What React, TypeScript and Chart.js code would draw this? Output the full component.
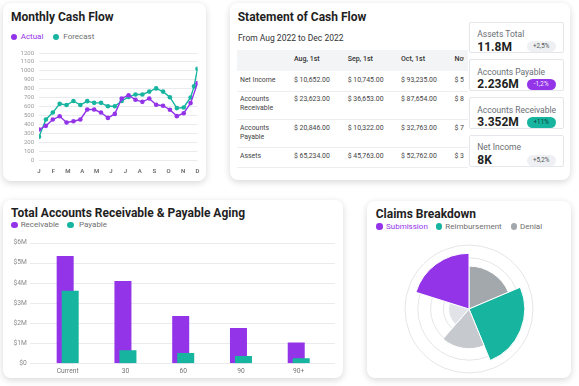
import React, { useEffect, useRef } from 'react';
import { Chart, registerables } from 'chart.js';

Chart.register(...registerables);

const FONT = 'Roboto, "Noto Sans", sans-serif';
const PURPLE = '#9334e9';
const TEAL = '#17b4a0';
const GRID = '#e9ebee';

// ---------- Monthly Cash Flow ----------
const MONTH_TICKS = ['J', 'F', 'M', 'A', 'M', 'J', 'J', 'A', 'S', 'O', 'N', 'D'];
const ACTUAL_POS = [0, 1, 2, 3, 4, 5, 6, 7, 8, 9, 10, 11, 12, 13, 14, 15, 16, 17, 18, 19, 20, 21, 22, 23];
const ACTUAL = [342, 383, 454, 491, 420, 435, 454, 566, 566, 532, 472, 517, 690, 727, 675, 652, 690, 619, 609, 564, 492, 525, 638, 862];
const FORECAST_POS = [0, 1, 2, 3, 4, 5, 6, 7, 8, 9, 10, 11, 12, 13, 14, 15, 16, 17, 18, 19, 20, 21, 22, 22.5, 23];
const FORECAST = [260, 455, 532, 630, 617, 662, 617, 660, 641, 641, 602, 602, 662, 707, 735, 735, 767, 803, 767, 704, 582, 589, 701, 826, 1022];

// ---------- Statement of Cash Flow ----------
const STATEMENT_COLUMNS = ['Aug, 1st', 'Sep, 1st', 'Oct, 1st', 'Nov, 1st'];
const STATEMENT_ROWS = [['Net Income'], ['Accounts', 'Receivable'], ['Accounts', 'Payable'], ['Assets']];
const NET_INCOME = ['$ 10,652.00', '$ 10,745.00', '$ 93,235.00', '$ 51,240.00'];
const ACCOUNTS_RECEIVABLE = ['$ 23,623.00', '$ 36,653.00', '$ 87,654.00', '$ 82,310.00'];
const ACCOUNTS_PAYABLE = ['$ 20,846.00', '$ 10,322.00', '$ 32,763.00', '$ 71,554.00'];
const ASSETS = ['$ 65,234.00', '$ 45,763.00', '$ 52,762.00', '$ 38,902.00'];
const STATEMENT_VALUES = [NET_INCOME, ACCOUNTS_RECEIVABLE, ACCOUNTS_PAYABLE, ASSETS];

const KPI_LABELS = ['Assets Total', 'Accounts Payable', 'Accounts Receivable', 'Net Income'];
const KPI_VALUES = ['11.8M', '2.236M', '3.352M', '8K'];
const KPI_CHANGES = ['+2,5%', '-1,2%', '+11%', '+5,2%'];

// ---------- Aging ----------
const AGING_BUCKETS = ['Current', '30', '60', '90', '90+'];
const RECEIVABLE = [5.34, 4.09, 2.35, 1.76, 1.04];
const PAYABLE = [3.61, 0.65, 0.51, 0.36, 0.25];
const AGING_TICKS = ['$0', '$1M', '$2M', '$3M', '$4M', '$5M', '$6M'];
const PAIR_SHIFT = 0.0433; // half the offset between the two overlapping bars, in category units

// ---------- Claims ----------
const CLAIM_SEGMENTS = ['Denial', 'Reimbursement', 'Denial (partial)', 'Denial (pending)', 'Submission'];
const CLAIM_VALUES = [67, 87, 62, 32, 87];
const CLAIM_ANGLES = [67, 90.6, 63.4, 66.5, 72.5];
const CLAIM_COLORS = ['#a3a8ad', TEAL, '#c6c9cd', '#e2e3e9', PURPLE];
const CLAIM_LEGEND = ['Submission', 'Reimbursement', 'Denial'];

function fixAxis(size: number, horizontal: boolean) {
  return (s: any) => {
    if (horizontal) s.height = size;
    else s.width = size;
    s.paddingTop = 0;
    s.paddingBottom = 0;
    s.paddingLeft = 0;
    s.paddingRight = 0;
  };
}

function Txt(props: any) {
  const { x, b, size, weight = 400, color = '#2a2a2a', children } = props;
  return (
    <div
      style={{
        position: 'absolute',
        left: x,
        top: b - 0.842 * size,
        fontSize: size,
        lineHeight: `${size}px`,
        fontWeight: weight,
        color,
        whiteSpace: 'nowrap',
        fontFamily: FONT,
      }}
    >
      {children}
    </div>
  );
}

function Dot(props: any) {
  const { cx, cy, color, d = 6.5 } = props;
  return (
    <div
      style={{
        position: 'absolute',
        left: cx - d / 2,
        top: cy - d / 2,
        width: d,
        height: d,
        borderRadius: '50%',
        background: color,
      }}
    />
  );
}

function Card(props: any) {
  const { x, y, w, h } = props;
  return (
    <div
      style={{
        position: 'absolute',
        left: x,
        top: y,
        width: w,
        height: h,
        background: '#fff',
        borderRadius: 8,
        boxShadow: '0 2px 7px rgba(0,0,0,0.16)',
      }}
    />
  );
}

export default function App() {
  const lineRef = useRef<HTMLCanvasElement>(null);
  const barRef = useRef<HTMLCanvasElement>(null);
  const polarRef = useRef<HTMLCanvasElement>(null);

  useEffect(() => {
    const charts: Chart[] = [];

    charts.push(
      new Chart(lineRef.current as HTMLCanvasElement, {
        type: 'line',
        data: {
          datasets: [
            {
              label: 'Actual',
              data: ACTUAL.map((y, i) => ({ x: ACTUAL_POS[i], y })),
              borderColor: PURPLE,
              backgroundColor: PURPLE,
              borderWidth: 1.4,
              pointRadius: 2.3,
              pointBorderWidth: 0,
              tension: 0,
            },
            {
              label: 'Forecast',
              data: FORECAST.map((y, i) => ({ x: FORECAST_POS[i], y })),
              borderColor: TEAL,
              backgroundColor: TEAL,
              borderWidth: 1.4,
              pointRadius: 2.3,
              pointBorderWidth: 0,
              tension: 0,
            },
          ],
        },
        options: {
          animation: false,
          responsive: false,
          maintainAspectRatio: false,
          layout: { padding: { top: 5, right: 6.5, left: 0, bottom: 0 } },
          plugins: { legend: { display: false }, tooltip: { enabled: false } },
          scales: {
            x: {
              type: 'linear',
              min: 0,
              max: 23,
              grid: { display: false, drawTicks: false },
              border: { display: false },
              afterBuildTicks: (s: any) => {
                s.ticks = MONTH_TICKS.map((_, i) => ({ value: (i * 23) / 11 }));
              },
              afterFit: fixAxis(16, true),
              ticks: {
                autoSkip: false,
                maxRotation: 0,
                padding: 8,
                color: '#666',
                font: { size: 6, weight: 600, family: FONT },
                callback: (_v: any, i: number) => MONTH_TICKS[i],
              },
            },
            y: {
              min: 0,
              max: 1200,
              grid: { color: GRID, drawTicks: false, lineWidth: 1 },
              border: { display: false },
              afterFit: fixAxis(31, false),
              ticks: {
                stepSize: 100,
                autoSkip: false,
                padding: 5,
                color: '#9a9a9a',
                font: { size: 6, family: FONT },
                callback: (v: any) => String(v),
              },
            },
          },
        },
      } as any)
    );

    const extendedGrid = {
      id: 'extendedGrid',
      beforeDatasetsDraw(chart: any) {
        const { ctx, chartArea, scales } = chart;
        const y = scales.y;
        ctx.save();
        ctx.strokeStyle = GRID;
        ctx.lineWidth = 1;
        y.ticks.forEach((t: any) => {
          const py = Math.round(y.getPixelForValue(t.value)) + 0.5;
          ctx.beginPath();
          ctx.moveTo(chartArea.left - 8.8, py);
          ctx.lineTo(chartArea.right + 7.4, py);
          ctx.stroke();
        });
        ctx.restore();
      },
    };

    const barCommon = { grouped: false, categoryPercentage: 1, barPercentage: 3.4, borderWidth: 0 };
    charts.push(
      new Chart(barRef.current as HTMLCanvasElement, {
        type: 'bar',
        data: {
          datasets: [
            {
              label: 'Payable',
              data: PAYABLE.map((y, i) => ({ x: i + PAIR_SHIFT, y })),
              backgroundColor: TEAL,
              ...barCommon,
            },
            {
              label: 'Receivable',
              data: RECEIVABLE.map((y, i) => ({ x: i - PAIR_SHIFT, y })),
              backgroundColor: PURPLE,
              ...barCommon,
            },
          ],
        },
        options: {
          animation: false,
          responsive: false,
          maintainAspectRatio: false,
          layout: { padding: { top: 6.7, right: 15.4, left: 0, bottom: 0 } },
          plugins: { legend: { display: false }, tooltip: { enabled: false } },
          scales: {
            x: {
              type: 'linear',
              offset: false,
              min: -0.5,
              max: 4.5,
              grid: { display: false, drawTicks: false },
              border: { display: false },
              afterBuildTicks: (s: any) => {
                s.ticks = AGING_BUCKETS.map((_, i) => ({ value: i }));
              },
              afterFit: fixAxis(14.7, true),
              ticks: {
                autoSkip: false,
                padding: 4,
                color: '#777',
                font: { size: 6.7, family: FONT },
                maxRotation: 0,
                callback: (_v: any, i: number) => AGING_BUCKETS[i],
              },
            },
            y: {
              min: 0,
              max: 6,
              grid: { display: false, drawTicks: false },
              border: { display: false },
              afterFit: fixAxis(35.8, false),
              ticks: {
                stepSize: 1,
                autoSkip: false,
                padding: 12,
                color: '#8a8a8a',
                font: { size: 6.7, family: FONT },
                callback: (v: any) => AGING_TICKS[Math.round(Number(v))],
              },
            },
          },
        },
        plugins: [extendedGrid],
      } as any)
    );

    charts.push(
      new Chart(polarRef.current as HTMLCanvasElement, {
        type: 'polarArea',
        data: {
          labels: CLAIM_SEGMENTS,
          datasets: [
            {
              data: CLAIM_VALUES,
              backgroundColor: CLAIM_COLORS,
              borderColor: '#ffffff',
              borderWidth: 1,
              angle: (ctx: any) => CLAIM_ANGLES[ctx.dataIndex],
            },
          ],
        },
        options: {
          animation: false,
          responsive: false,
          maintainAspectRatio: false,
          layout: { padding: 1 },
          plugins: { legend: { display: false }, tooltip: { enabled: false } },
          scales: {
            r: {
              min: 0,
              max: 100,
              ticks: { display: false, stepSize: 20 },
              grid: { color: '#e4e5e8' },
              angleLines: { display: false },
              pointLabels: { display: false },
            },
          },
        },
      } as any)
    );

    return () => charts.forEach((c) => c.destroy());
  }, []);

  const kpiTops = [21.7, 59.3, 97.3, 135];
  const badgeStyles = [
    { bg: '#eef0f3', fg: '#555' },
    { bg: PURPLE, fg: '#f3e8ff' },
    { bg: TEAL, fg: '#0f3b35' },
    { bg: '#eef0f3', fg: '#555' },
  ];
  const colX = [294, 347.7, 401, 454.5];
  const rowBase = [83.2, 102.3, 130.7, 159.3];
  const sepY = [90.7, 119, 147.3, 167.3];
  const tableLeft = 236.7;
  const tableTop = 49;

  return (
    <div
      style={{
        position: 'fixed',
        left: 0,
        top: 0,
        width: 579,
        height: 386,
        background: '#fff',
        overflow: 'hidden',
        fontFamily: FONT,
      }}
    >
      <Card x={3} y={3} w={203} h={178} />
      <Card x={230} y={3} w={340} h={177} />
      <Card x={3} y={200} w={340} h={178} />
      <Card x={367} y={201} w={204} h={177} />

      {/* Monthly Cash Flow */}
      <Txt x={11} b={20.7} size={12} weight={700} color="#1f1f1f">Monthly Cash Flow</Txt>
      <Dot cx={14} cy={37} color={PURPLE} />
      <Txt x={20.7} b={39.6} size={8} color={PURPLE}>Actual</Txt>
      <Dot cx={56} cy={37} color={TEAL} />
      <Txt x={63.3} b={39.6} size={8} color="#6f6f6f">Forecast</Txt>
      <canvas ref={lineRef} width={196} height={128} style={{ position: 'absolute', left: 8, top: 48 }} />

      {/* Statement of Cash Flow */}
      <Txt x={237.7} b={21} size={12} weight={700} color="#1f1f1f">Statement of Cash Flow</Txt>
      <Txt x={238} b={40.7} size={8.5} color="#333">From Aug 2022 to Dec 2022</Txt>
      <div style={{ position: 'absolute', left: tableLeft, top: 50, width: 231, height: 21, background: '#f3f4f6' }} />
      {sepY.map((y, i) => (
        <div key={'s' + i} style={{ position: 'absolute', left: tableLeft, top: y, width: 231, height: 1, background: '#eceef0' }} />
      ))}
      <div
        style={{
          position: 'absolute',
          left: tableLeft,
          top: tableTop,
          width: 227,
          height: 121,
          overflow: 'hidden',
        }}
      >
        {STATEMENT_COLUMNS.map((c, i) => (
          <Txt key={'h' + i} x={colX[i] - tableLeft} b={61.5 - tableTop} size={7} weight={500} color="#333">{c}</Txt>
        ))}
        {STATEMENT_ROWS.map((lines, r) => (
          <React.Fragment key={'r' + r}>
            {lines.map((ln, k) => (
              <Txt key={k} x={240 - tableLeft} b={rowBase[r] + k * 8.8 - tableTop} size={6.9} color="#444">{ln}</Txt>
            ))}
            {STATEMENT_VALUES[r].map((v, c) => (
              <Txt key={'v' + c} x={colX[c] - tableLeft} b={rowBase[r] - tableTop} size={6.9} color="#444">{v}</Txt>
            ))}
          </React.Fragment>
        ))}
      </div>

      {KPI_LABELS.map((lab, i) => {
        const top = kpiTops[i];
        return (
          <React.Fragment key={'k' + i}>
            <div
              style={{
                position: 'absolute',
                left: 469.3,
                top,
                width: 95,
                height: 31.5,
                boxSizing: 'border-box',
                border: '1px solid #e4e6e9',
                borderRadius: 2,
                background: '#fff',
              }}
            />
            <Txt x={477.3} b={top + 15.5} size={8.5} color="#6b6f75">{lab}</Txt>
            <Txt x={477.3} b={top + 29.3} size={12} weight={700} color="#1f1f1f">{KPI_VALUES[i]}</Txt>
            <div
              style={{
                position: 'absolute',
                left: 526.7,
                top: top + 25 - 5.5,
                width: 29,
                height: 11,
                borderRadius: 6,
                background: badgeStyles[i].bg,
                color: badgeStyles[i].fg,
                fontSize: 6.3,
                lineHeight: '11px',
                textAlign: 'center',
                fontFamily: FONT,
              }}
            >
              {KPI_CHANGES[i]}
            </div>
          </React.Fragment>
        );
      })}

      {/* Aging */}
      <Txt x={11} b={217} size={12} weight={700} color="#1f1f1f">Total Accounts Receivable &amp; Payable Aging</Txt>
      <Dot cx={14.3} cy={225} color={PURPLE} />
      <Txt x={20.7} b={227.7} size={8} color="#6f6f6f">Receivable</Txt>
      <Dot cx={70.7} cy={225} color={TEAL} />
      <Txt x={79} b={227.7} size={8} color="#6f6f6f">Payable</Txt>
      <canvas ref={barRef} width={340} height={142} style={{ position: 'absolute', left: 3, top: 236 }} />

      {/* Claims */}
      <Txt x={375.7} b={218.3} size={12} weight={700} color="#1f1f1f">Claims Breakdown</Txt>
      <Dot cx={379.3} cy={226.7} color={PURPLE} />
      <Txt x={386} b={229.3} size={8} color={PURPLE}>{CLAIM_LEGEND[0]}</Txt>
      <Dot cx={439} cy={226.7} color={TEAL} />
      <Txt x={445.3} b={229.3} size={8} color="#6f6f6f">{CLAIM_LEGEND[1]}</Txt>
      <Dot cx={514} cy={226.7} color="#a3a8ad" />
      <Txt x={520} b={229.3} size={8} color="#6f6f6f">{CLAIM_LEGEND[2]}</Txt>
      <canvas ref={polarRef} width={200} height={130} style={{ position: 'absolute', left: 369, top: 244 }} />
    </div>
  );
}
